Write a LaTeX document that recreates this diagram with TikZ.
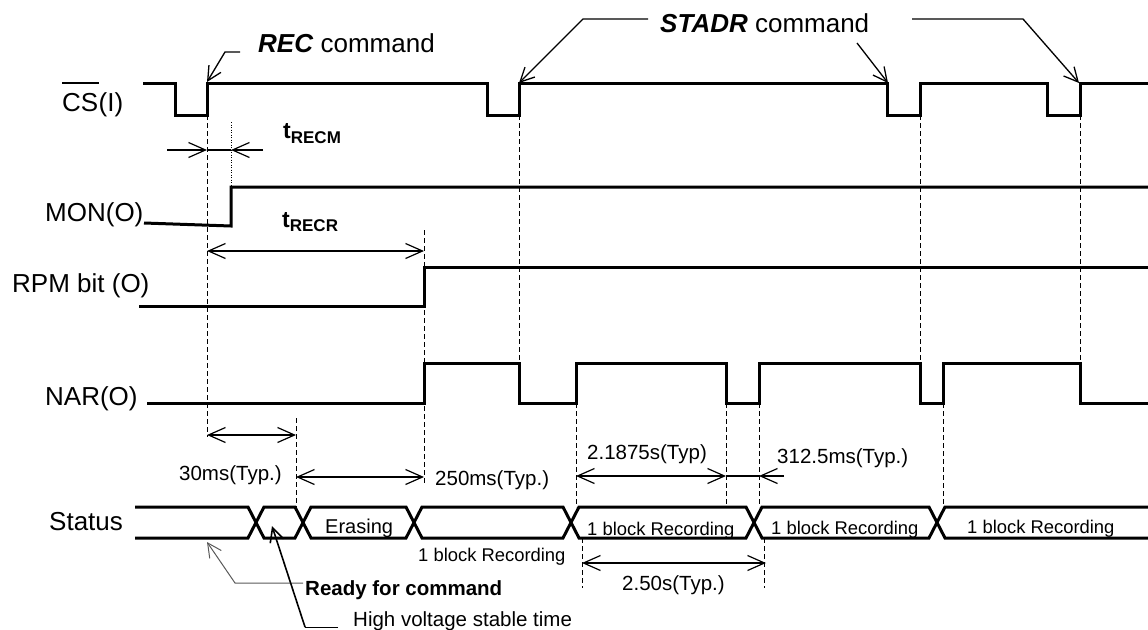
\documentclass[tikz,border=0pt]{standalone}
\usepackage{fontspec}
\setmainfont{Liberation Sans}
\usetikzlibrary{arrows.meta}

\begin{document}
\begin{tikzpicture}[x=1pt,y=-1pt,
  wave/.style={line width=3pt, line join=miter},
  guide/.style={line width=0.9pt, dash pattern=on 5pt off 3pt},
  dotguide/.style={line width=0.8pt, dash pattern=on 1pt off 1.5pt},
  barb/.tip={Straight Barb[length=17pt,width=15pt]},
  lbarb/.tip={Straight Barb[length=14pt,width=14pt]},
  dim/.style={line width=1.2pt},
  leader/.style={line width=1.3pt},
  lbl/.style={anchor=base west, inner sep=0pt, font=\fontsize{26}{30}\selectfont},
  small/.style={anchor=base west, inner sep=0pt, font=\fontsize{20.5}{24}\selectfont},
  blk/.style={anchor=base west, inner sep=0pt, font=\fontsize{18.4}{22}\selectfont},
  tsym/.style={anchor=base west, inner sep=0pt, font=\fontsize{23}{26}\selectfont\bfseries}
]
\useasboundingbox (0,0) rectangle (1148,629);

% ---------- signal names ----------
\node[lbl] (csname) at (62,111) {CS};
\node[lbl] (csio) at (csname.base east) [anchor=base west] {(I)};
\draw[line width=1.2pt] ([yshift=28pt]csname.base west) -- ([yshift=28pt]csname.base east);
\node[lbl] (monname) at (45,221) {MON(O)};
\node[lbl] (rpmname) at (12,292) {RPM bit (O)};
\node[lbl] (narname) at (45,405) {NAR(O)};
\node[lbl] (stname)  at (49,530) {Status};

% ---------- command labels ----------
\node[lbl] (reccmd) at (258,52) {\textbf{\textit{REC}} command};
\node[lbl] (stadrcmd) at (660,32) {\textbf{\textit{STADR}} command};

% ---------- guide lines ----------
\draw[guide] (207,115) -- (207,437);
\draw[dotguide] (231,122) -- (231,187);
\draw[guide] (424,230) -- (424,484);
\draw[guide] (519,115) -- (519,363);
\draw[guide] (920,115) -- (920,363);
\draw[guide] (1080,115) -- (1080,363);
\draw[guide] (296,418) -- (296,507);
\draw[guide] (576,403) -- (576,507);
\draw[guide] (582,538) -- (582,588);
\draw[guide] (726,403) -- (726,507);
\draw[guide] (759,403) -- (759,507);
\draw[guide] (764,538) -- (764,588);
\draw[guide] (943,403) -- (943,507);

% ---------- waveforms ----------
% CS(I)
\draw[wave] (143,83) -- (175,83) -- (175,115) -- (207,115) -- (207,83)
  -- (487,83) -- (487,115) -- (519,115) -- (519,83)
  -- (887,83) -- (887,115) -- (920,115) -- (920,83)
  -- (1047,83) -- (1047,115) -- (1080,115) -- (1080,83) -- (1148,83);
% MON(O)
\draw[wave] (144,223) -- (231,226) -- (231,187) -- (1148,187);
% RPM bit (O)
\draw[wave] (139,306) -- (424,306) -- (424,267) -- (1148,267);
% NAR(O)
\draw[wave] (147,403) -- (424,403) -- (424,363) -- (519,363) -- (519,403)
  -- (576,403) -- (576,363) -- (726,363) -- (726,403)
  -- (759,403) -- (759,363) -- (920,363) -- (920,403)
  -- (943,403) -- (943,363) -- (1080,363) -- (1080,403) -- (1148,403);
% Status bus
\draw[wave] (135,507) -- (248,507) -- (264,538) -- (295,538) -- (311,507)
  -- (406,507) -- (422,538) -- (563,538) -- (579,507)
  -- (746,507) -- (762,538) -- (929,538) -- (945,507) -- (1148,507);
\draw[wave] (135,538) -- (248,538) -- (264,507) -- (295,507) -- (311,538)
  -- (406,538) -- (422,507) -- (563,507) -- (579,538)
  -- (746,538) -- (762,507) -- (929,507) -- (945,538) -- (1148,538);

% ---------- timing dimensions ----------
\draw[dim,-barb] (167,150) -- (207,150);
\draw[dim] (207,150) -- (231,150);
\draw[dim,-barb] (263,150) -- (231,150);
\node[tsym] (trecm) at (283,138) {t\raisebox{-5pt}{\fontsize{17}{20}\selectfont RECM}};

\draw[dim,barb-barb] (207,251) -- (424,251);
\node[tsym] (trecr) at (282,227) {t\raisebox{-4pt}{\fontsize{17}{20}\selectfont RECR}};

\draw[dim,barb-barb] (207,435) -- (296,435);
\node[small] (t30) at (179,480) {30ms(Typ.)};

\draw[dim,barb-barb] (296,477) -- (424,477);
\node[small] (t250) at (435,485) {250ms(Typ.)};

\draw[dim,barb-barb] (576,476) -- (726,476);
\draw[dim] (726,476) -- (759,476);
\draw[dim,-barb] (784,476) -- (759,476);
\node[small] (t2187) at (587,459) {2.1875s(Typ)};
\node[small] (t312) at (777,463) {312.5ms(Typ.)};

\draw[dim,barb-barb] (582,563) -- (766,563);
\node[small] (t250s) at (622,590) {2.50s(Typ.)};

% ---------- status texts ----------
\node[small, font=\fontsize{20}{24}\selectfont] (erase) at (325,533) {Erasing};
\node[blk] (rec0) at (418,561) {1 block Recording};
\node[blk] (rec1) at (587,535) {1 block Recording};
\node[blk] (rec2) at (771,534) {1 block Recording};
\node[blk] (rec3) at (967,533) {1 block Recording};
\node[small, font=\fontsize{20.5}{24}\selectfont\bfseries] (ready) at (305,595) {Ready for command};
\node[small] (hv) at (353,626) {High voltage stable time};

% ---------- leaders ----------
\coordinate (recL) at (240,52);
\coordinate (recK) at (225,52);
\coordinate (recT) at (207,82);
\draw[leader,-lbarb] (recL) -- (recK) -- (recT);

\coordinate (sa1) at (648,19);
\coordinate (sa2) at (583,19);
\coordinate (sa3) at (519,83);
\draw[leader,-lbarb] (sa1) -- (sa2) -- (sa3);
\coordinate (sb1) at (857,43);
\coordinate (sb2) at (888,83);
\draw[leader,-lbarb] (sb1) -- (sb2);
\coordinate (sc1) at (912,19);
\coordinate (sc2) at (1023,19);
\coordinate (sc3) at (1079,83);
\draw[leader,-lbarb] (sc1) -- (sc2) -- (sc3);

\coordinate (rd1) at (303,583);
\coordinate (rd2) at (235,583);
\coordinate (rd3) at (207,542);
\draw[line width=1pt, black!65, -lbarb] (rd1) -- (rd2) -- (rd3);

\coordinate (hv1) at (338,627);
\coordinate (hv2) at (305,627);
\coordinate (hv3) at (272,526);
\draw[line width=1pt] (hv1) -- (hv2);
\draw[line width=1.6pt, -lbarb] (hv2) -- (hv3);
\end{tikzpicture}
\end{document}
